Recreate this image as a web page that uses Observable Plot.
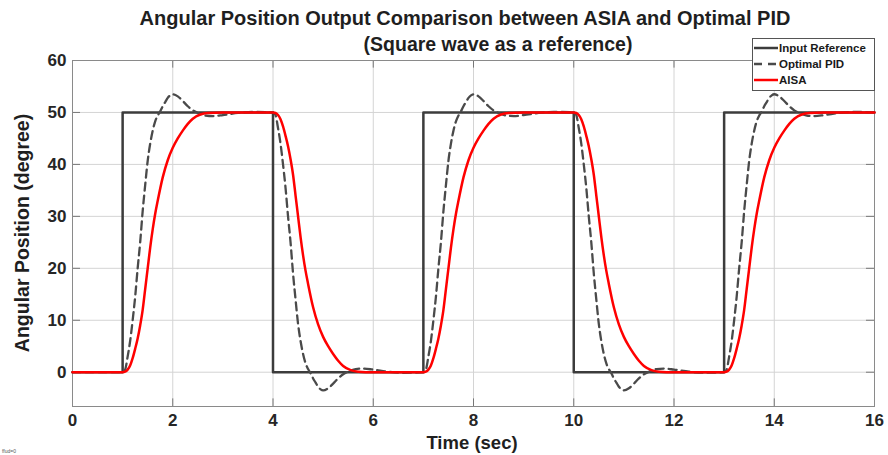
<!DOCTYPE html>
<html>
<head>
<meta charset="utf-8">
<script src="https://cdn.jsdelivr.net/npm/d3@7"></script>
<script src="https://cdn.jsdelivr.net/npm/@observablehq/plot@0.6"></script>
<style>
  body { margin: 0; background: #fff; }
  #wrap { position: relative; width: 888px; height: 455px; overflow: hidden;
          font-family: "Liberation Sans", Arial, sans-serif; font-weight: bold; color: #1f1f1f; }
  .t { position: absolute; white-space: nowrap; transform: translate(-50%, -50%); line-height: 1; }
  #legend { position: absolute; left: 752px; top: 38px; width: 123px; height: 53px; box-sizing: border-box;
            border: 1px solid #555; background: #fff; font-size: 11.5px; }
  #legend .row { position: absolute; left: 0; height: 14px; display: flex; align-items: center; }
  #legend svg { display: block; }
  #legend span { margin-left: 1px; color: #1a1a1a; }
</style>
</head>
<body>
<div id="wrap"></div>
<script>
// ---- data ----
const xTicks = [0, 2, 4, 6, 8, 10, 12, 14, 16];
const yTicks = [0, 10, 20, 30, 40, 50, 60];
const xDomain = [0, 16];
const yDomain = [-6.6, 60];

// Input reference (square wave)
const refTime  = [0, 1, 1, 4, 4, 7, 7, 10, 10, 13, 13, 16];
const refAngle = [0, 0, 50, 50, 0, 0, 50, 50, 0, 0, 50, 50];

// switching instants of the square wave and the direction of each step
const edgeTimes = [1, 4, 7, 10, 13];
const edgeKind  = ["rise", "fall", "rise", "fall", "rise"];

// Optimal PID response after each step (time after step, angle)
const pidOffsets = [0, 0.05, 0.1, 0.15, 0.2, 0.25, 0.3, 0.35, 0.4, 0.45, 0.5, 0.55, 0.6, 0.65, 0.7, 0.75,
                    0.8, 0.85, 0.9, 0.95, 1.0, 1.1, 1.2, 1.3, 1.4, 1.5, 1.65, 1.8, 2.0, 2.3, 2.6];
const pidRise = [0, 0.5, 3, 6, 10, 14.5, 20, 25, 31, 36, 40.7, 44, 46.5, 48.3, 49.4, 50.2,
                 51.2, 52.0, 52.8, 53.3, 53.5, 53.1, 52.2, 51.2, 50.4, 49.9, 49.4, 49.3, 49.5, 49.9, 50.1];
const pidFall = [50, 49.5, 47, 44, 40, 35.5, 30, 25, 19, 14, 9.3, 6, 3.5, 1.7, 0.6, -0.2,
                 -1.2, -2.0, -2.8, -3.3, -3.5, -3.1, -2.2, -1.2, -0.4, 0.1, 0.6, 0.7, 0.5, 0.1, -0.1];

// AISA response after each step (time after step, angle)
const aisaOffsets = [0, 0.05, 0.1, 0.15, 0.2, 0.25, 0.3, 0.35, 0.4, 0.45, 0.5, 0.55, 0.6, 0.65, 0.7,
                     0.8, 0.9, 1.0, 1.1, 1.2, 1.3, 1.4, 1.55, 1.7, 2.0, 2.5];
const aisaRise = [0, 0.1, 0.5, 1.3, 2.7, 4.5, 6.5, 9, 12, 16, 20, 24, 27.5, 30.5, 33,
                  37.5, 40.8, 43.2, 45, 46.5, 47.8, 48.8, 49.6, 49.9, 50, 50];
const aisaFall = [50, 49.9, 49.5, 48.7, 47.3, 45.5, 43.5, 41, 38, 34, 30, 26, 22.5, 19.5, 17,
                  12.5, 9.2, 6.8, 5, 3.5, 2.2, 1.2, 0.4, 0.1, 0, 0];

const legendItems = ["Input Reference", "Optimal PID", "AISA"];
const title1 = "Angular Position Output Comparison between ASIA and Optimal PID";
const title2 = "(Square wave as a reference)";
const xLabel = "Time (sec)";
const yLabel = "Angular Position (degree)";

// ---- assemble series ----
function assemble(offsets, rise, fall) {
  const out = [{t: 0, v: 0}];
  edgeTimes.forEach((e, k) => {
    const vals = edgeKind[k] === "rise" ? rise : fall;
    offsets.forEach((o, i) => out.push({t: e + o, v: vals[i]}));
  });
  out.push({t: 16, v: 50});
  return out;
}
const refData  = refTime.map((t, i) => ({t, v: refAngle[i]}));
const pidData  = assemble(pidOffsets, pidRise, pidFall);
const aisaData = assemble(aisaOffsets, aisaRise, aisaFall);

const tickLx = (xDomain[1] - xDomain[0]) * 0.01;
const tickLy = (yDomain[1] - yDomain[0]) * 0.022;

const chart = Plot.plot({
  width: 888,
  height: 455,
  marginLeft: 72,
  marginRight: 14,
  marginTop: 60,
  marginBottom: 49,
  style: {fontFamily: "'Liberation Sans', Arial, sans-serif", fontSize: "17px", fontWeight: "bold",
          color: "#262626", background: "transparent", overflow: "visible"},
  x: {domain: xDomain, label: null},
  y: {domain: yDomain, label: null},
  marks: [
    Plot.gridX(xTicks, {stroke: "#d4d4d4", strokeOpacity: 1}),
    Plot.gridY(yTicks, {stroke: "#d4d4d4", strokeOpacity: 1}),
    Plot.ruleY(yTicks, {x1: xDomain[0], x2: xDomain[0] + tickLx, stroke: "#777"}),
    Plot.ruleY(yTicks, {x1: xDomain[1] - tickLx, x2: xDomain[1], stroke: "#777"}),
    Plot.ruleX(xTicks, {y1: yDomain[0], y2: yDomain[0] + tickLy, stroke: "#777"}),
    Plot.ruleX(xTicks, {y1: yDomain[1] - tickLy, y2: yDomain[1], stroke: "#777"}),
    Plot.frame({stroke: "#8a8a8a"}),
    Plot.axisX({ticks: xTicks, tickSize: 0, tickPadding: 7, label: null, tickFormat: d => String(d)}),
    Plot.axisY({ticks: yTicks, tickSize: 0, tickPadding: 6, label: null, tickFormat: d => String(d)}),
    Plot.line(refData, {x: "t", y: "v", stroke: "#3c3c3c", strokeWidth: 2.5}),
    Plot.line(pidData, {x: "t", y: "v", stroke: "#4a4a4a", strokeWidth: 2.3, strokeDasharray: "8,5", curve: "monotone-x"}),
    Plot.line(aisaData, {x: "t", y: "v", stroke: "#ff0000", strokeWidth: 2.5, curve: "monotone-x"})
  ]
});

const wrap = document.getElementById("wrap");
wrap.appendChild(chart);

function addText(txt, x, y, size, extra) {
  const d = document.createElement("div");
  d.className = "t";
  d.textContent = txt;
  d.style.left = x + "px";
  d.style.top = y + "px";
  d.style.fontSize = size + "px";
  if (extra) d.style.transform = extra;
  wrap.appendChild(d);
  return d;
}
addText(title1, 465, 18, 20);
addText(title2, 498, 45, 19.5);
addText(xLabel, 472, 443, 18.5);
addText(yLabel, 23, 233, 19.5, "translate(-50%,-50%) rotate(-90deg)");
const tiny = addText("ffud=0", 9, 451, 5);
tiny.style.fontWeight = "normal";
tiny.style.color = "#555";

// legend
const legend = document.createElement("div");
legend.id = "legend";
const styles = [
  {stroke: "#3c3c3c", dash: null},
  {stroke: "#4a4a4a", dash: "8,6"},
  {stroke: "#ff0000", dash: null}
];
const rowTops = [2, 18, 34];
legendItems.forEach((name, i) => {
  const row = document.createElement("div");
  row.className = "row";
  row.style.top = rowTops[i] + "px";
  const s = styles[i];
  row.innerHTML = `<svg width="25" height="14"><line x1="1" x2="25" y1="7" y2="7" stroke="${s.stroke}" stroke-width="2.5" ${s.dash ? `stroke-dasharray="${s.dash}"` : ""}/></svg><span>${name}</span>`;
  legend.appendChild(row);
});
wrap.appendChild(legend);
</script>
</body>
</html>
